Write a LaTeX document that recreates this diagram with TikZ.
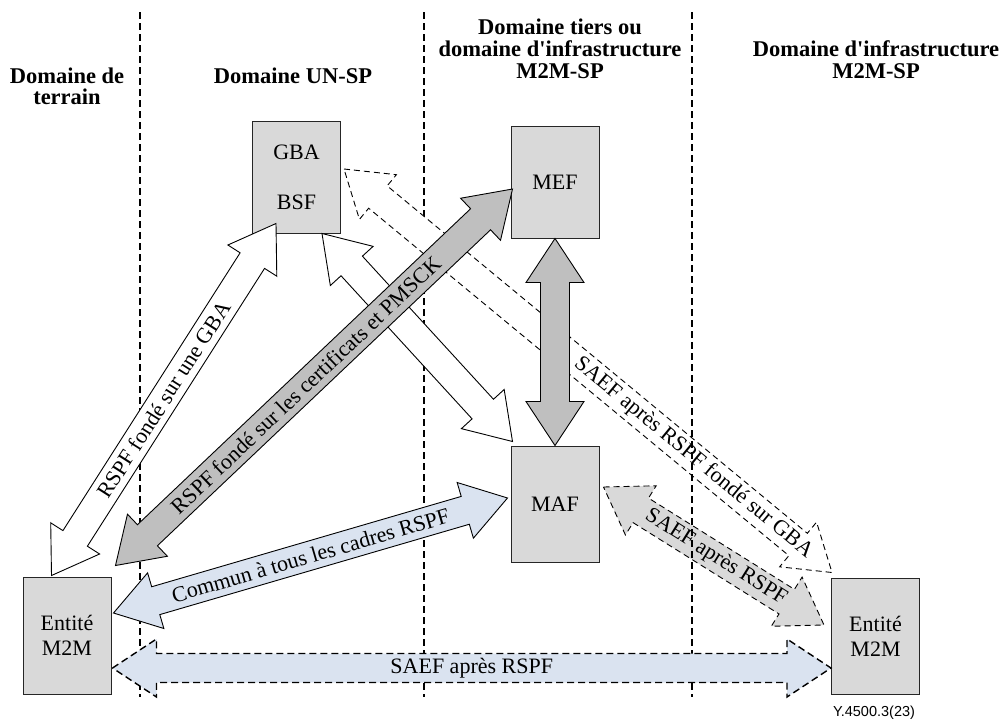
\documentclass[tikz,border=0pt]{standalone}
\usepackage{fontspec}
\setmainfont{Liberation Serif}
\setsansfont{Liberation Sans}
\usetikzlibrary{calc}

\definecolor{boxgray}{HTML}{D9D9D9}
\definecolor{arrowgray}{HTML}{BFBFBF}
\definecolor{lightarrowgray}{HTML}{D9D9D9}
\definecolor{paleblue}{HTML}{DAE3F0}

% Double-headed block arrow from #2 to #3, drawn with the options #1
\newcommand\dblblockarrow[3]{%
  \path (#2) coordinate (dba-s) (#3) coordinate (dba-e);
  \path ($(dba-s)!44pt!(dba-e)$) coordinate (dba-p)
        ($(dba-e)!44pt!(dba-s)$) coordinate (dba-q);
  \draw[#1] (dba-s)
    -- ($(dba-p)!29pt!90:(dba-e)$) -- ($(dba-p)!14.5pt!90:(dba-e)$)
    -- ($(dba-q)!14.5pt!-90:(dba-s)$) -- ($(dba-q)!29pt!-90:(dba-s)$)
    -- (dba-e)
    -- ($(dba-q)!29pt!90:(dba-s)$) -- ($(dba-q)!14.5pt!90:(dba-s)$)
    -- ($(dba-p)!14.5pt!-90:(dba-e)$) -- ($(dba-p)!29pt!-90:(dba-e)$)
    -- cycle;
}

\begin{document}
\begin{tikzpicture}[x=1pt,y=-1pt,
  every node/.style={font=\fontsize{22}{25}\selectfont},
  header/.style={font=\fontsize{22.5}{22}\selectfont\bfseries, anchor=base, inner sep=0pt},
  box/.style={draw=black!85, line width=1pt, fill=boxgray, minimum width=88pt,
    inner sep=0pt, align=center},
  domainline/.style={line width=1.5pt, dash pattern=on 7pt off 4pt},
  solidarrow/.style={draw=black, line width=0.9pt, line join=miter},
  dashedarrow/.style={draw=black, line width=0.9pt, line join=miter,
    dash pattern=on 6pt off 4pt},
  boldashedarrow/.style={draw=black, line width=1.4pt, line join=miter,
    dash pattern=on 7pt off 4pt},
  arrowtext/.style={sloped, inner sep=0pt}]

\useasboundingbox (0,0) rectangle (1001,721);
\fill[white] (0,0) rectangle (1001,721);

% domain separators
\coordinate (sepAtop) at (140,12);  \coordinate (sepAbot) at (140,697);
\coordinate (sepBtop) at (424,12);  \coordinate (sepBbot) at (424,697);
\coordinate (sepCtop) at (692,12);  \coordinate (sepCbot) at (692,697);
\draw[domainline] (sepAtop) -- (sepAbot);
\draw[domainline] (sepBtop) -- (sepBbot);

% domain titles
\node[header] (hterrA) at (67,83) {Domaine de};
\node[header] (hterrB) at (67,104) {terrain};
\node[header] (hunsp) at (293,83) {Domaine UN-SP};
\node[header] (htiersA) at (560,34) {Domaine tiers ou};
\node[header] (htiersB) at (560,56) {domaine d\textquotesingle infrastructure};
\node[header] (htiersC) at (560,78) {M2M-SP};
\node[header] (hinfraA) at (876,56) {Domaine d\textquotesingle infrastructure};
\node[header] (hinfraB) at (876,78) {M2M-SP};

% functional entities
\node[box, minimum height=112pt] (gba) at (296.5,177) {GBA\\[25pt]BSF};
\node[box, minimum height=112pt] (mef) at (555,182) {MEF};
\node[box, minimum height=116pt] (maf) at (555,504) {MAF};
\node[box, minimum height=117pt] (ent1) at (67,635.5) {Entité\\M2M};
\node[box, minimum height=116pt] (ent2) at (875.5,636) {Entité\\M2M};

% arrow end points
\coordinate (gbaLow)   at ($(ent1.north west)+(29,-1)$);
\coordinate (gbaHigh)  at ($(gba.south west)+(24,-10)$);
\coordinate (bsfEnd)   at ($(gba.south east)+(-19,0)$);
\coordinate (mafTopL)  at ($(maf.north west)+(2,-4)$);
\coordinate (certLow)  at ($(ent1.north east)+(4,-11)$);
\coordinate (certHigh) at ($(mef.west)+(2,7)$);
\coordinate (commLow)  at ($(ent1.east)+(2,-22.5)$);
\coordinate (commHigh) at ($(maf.west)+(-3,-6)$);
\coordinate (saefA)    at ($(gba.east)+(3,-8)$);
\coordinate (saefB)    at ($(ent2.north west)+(1,-5)$);
\coordinate (saefC)    at ($(maf.east)+(4,-17)$);
\coordinate (saefD)    at ($(ent2.west)+(-7,-11)$);
\coordinate (horizL)   at ($(ent1.east)+(1,32.5)$);
\coordinate (horizR)   at ($(ent2.west)+(0,32)$);

% white arrows
\dblblockarrow{solidarrow, fill=white}{gbaLow}{gbaHigh}
\dblblockarrow{solidarrow, fill=white}{bsfEnd}{mafTopL}
\dblblockarrow{dashedarrow, fill=white}{saefA}{saefB}
% grey arrows
\dblblockarrow{solidarrow, fill=arrowgray}{certLow}{certHigh}
\dblblockarrow{solidarrow, fill=arrowgray}{mef.south}{maf.north}
% common arrow
\dblblockarrow{solidarrow, fill=paleblue}{commLow}{commHigh}
% secure association after RSPF
\dblblockarrow{dashedarrow, fill=lightarrowgray}{saefC}{saefD}
\draw[domainline] (sepCtop) -- (sepCbot);
\dblblockarrow{boldashedarrow, fill=paleblue}{horizL}{horizR}

% arrow labels
\path (gbaLow) -- (gbaHigh) node[arrowtext, pos=.5] (tgba) {RSPF fondé sur une GBA};
\path (certLow) -- (certHigh) node[arrowtext, pos=.48] (tcert) {RSPF fondé sur les certificats et PMSCK};
\path (commLow) -- (commHigh) node[arrowtext, pos=.5] (tcomm) {Commun à tous les cadres RSPF};
\path (saefA) -- (saefB) node[arrowtext, pos=.716] (tsaefgba) {SAEF après RSPF fondé sur GBA};
\path (saefC) -- (saefD) node[arrowtext, pos=.51] (tsaef) {SAEF après RSPF};
\path (horizL) -- (horizR) node[arrowtext, pos=.5] (thoriz) {SAEF après RSPF};

% figure reference
\node[font=\sffamily\fontsize{14.5}{16}\selectfont] (figref) at (874,713) {Y.4500.3(23)};
\end{tikzpicture}
\end{document}
